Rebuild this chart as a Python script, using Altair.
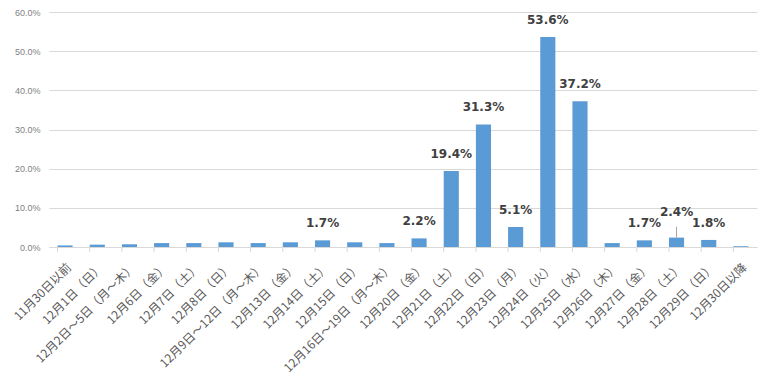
import altair as alt
import pandas as pd

categories = [
    "11月30日以前", "12月1日（日）", "12月2日～5日（月～木）", "12月6日（金）",
    "12月7日（土）", "12月8日（日）", "12月9日～12日（月～木）", "12月13日（金）",
    "12月14日（土）", "12月15日（日）", "12月16日～19日（月～木）", "12月20日（金）",
    "12月21日（土）", "12月22日（日）", "12月23日（月）", "12月24日（火）",
    "12月25日（水）", "12月26日（木）", "12月27日（金）", "12月28日（土）",
    "12月29日（日）", "12月30日以降",
]
values = [0.4, 0.6, 0.7, 1.0, 1.0, 1.2, 1.0, 1.2, 1.7, 1.2, 1.0, 2.2,
          19.4, 31.3, 5.1, 53.6, 37.2, 1.0, 1.7, 2.4, 1.8, 0.2]
labels = ["", "", "", "", "", "", "", "", "1.7%", "", "", "2.2%",
          "19.4%", "31.3%", "5.1%", "53.6%", "37.2%", "", "1.7%", "2.4%", "1.8%", ""]
leader_labels = ["12月28日（土）"]

df = pd.DataFrame({"cat": categories, "value": values, "label": labels})
df["leader"] = df["cat"].isin(leader_labels)

W, H = 708, 235
BLUE = "#5B9BD5"
GRID = "#d9d9d9"

x_axis = alt.Axis(labelAngle=-45, labelFont="Noto Sans CJK JP", labelFontSize=12,
                  labelColor="#595959", ticks=False, domainColor=GRID, grid=False,
                  labelAlign="right", labelBaseline="middle",
                  labelPadding=18, labelOffset=4, labelLimit=300, labelOverlap=False)
y_axis = alt.Axis(values=[0, 10, 20, 30, 40, 50, 60],
                  labelExpr="format(datum.value, '.1f') + '%'",
                  labelFont="Liberation Sans", labelFontSize=9, labelColor="#7f7f7f",
                  ticks=False, domain=False, grid=True, gridColor=GRID, labelPadding=9,
                  labelOverlap=False)

xs = alt.Scale(paddingInner=0.53, paddingOuter=0.265)
ys = alt.Scale(domain=[0, 60], nice=False)

def X(**kw):
    return alt.X("cat:N", sort=categories, title=None, scale=xs, axis=x_axis, **kw)

def Y():
    return alt.Y("value:Q", title=None, scale=ys, axis=y_axis)

base = alt.Chart(df)

bars = base.mark_bar(color=BLUE).encode(x=X(), y=Y())

ticks = base.mark_rule(color=GRID).encode(
    x=X(bandPosition=0), y=alt.value(H), y2=alt.value(H + 5))

txt_style = dict(font="DejaVu Sans", fontSize=12, fontWeight="bold", color="#404040",
                 baseline="middle", align="center")

normal = base.transform_filter("datum.label != '' && !datum.leader").mark_text(
    dy=-17, **txt_style).encode(x=X(), y=Y(), text="label:N")

lead_txt = base.transform_filter("datum.leader").mark_text(
    dy=-26, **txt_style).encode(x=X(), y=Y(), text="label:N")

lead_line = base.transform_filter("datum.leader").transform_calculate(
    top="datum.value + 2.8").mark_rule(color="#a6a6a6").encode(
    x=X(), y=Y(), y2="top:Q")

chart = alt.layer(bars, ticks, lead_line, normal, lead_txt).properties(
    width=W, height=H,
    autosize=alt.AutoSizeParams(type="none"),
    padding={"left": 41, "top": 4, "right": 3, "bottom": 138},
).configure_view(stroke=None)

chart.save("out.html", embed_options={"renderer": "svg", "actions": False})
